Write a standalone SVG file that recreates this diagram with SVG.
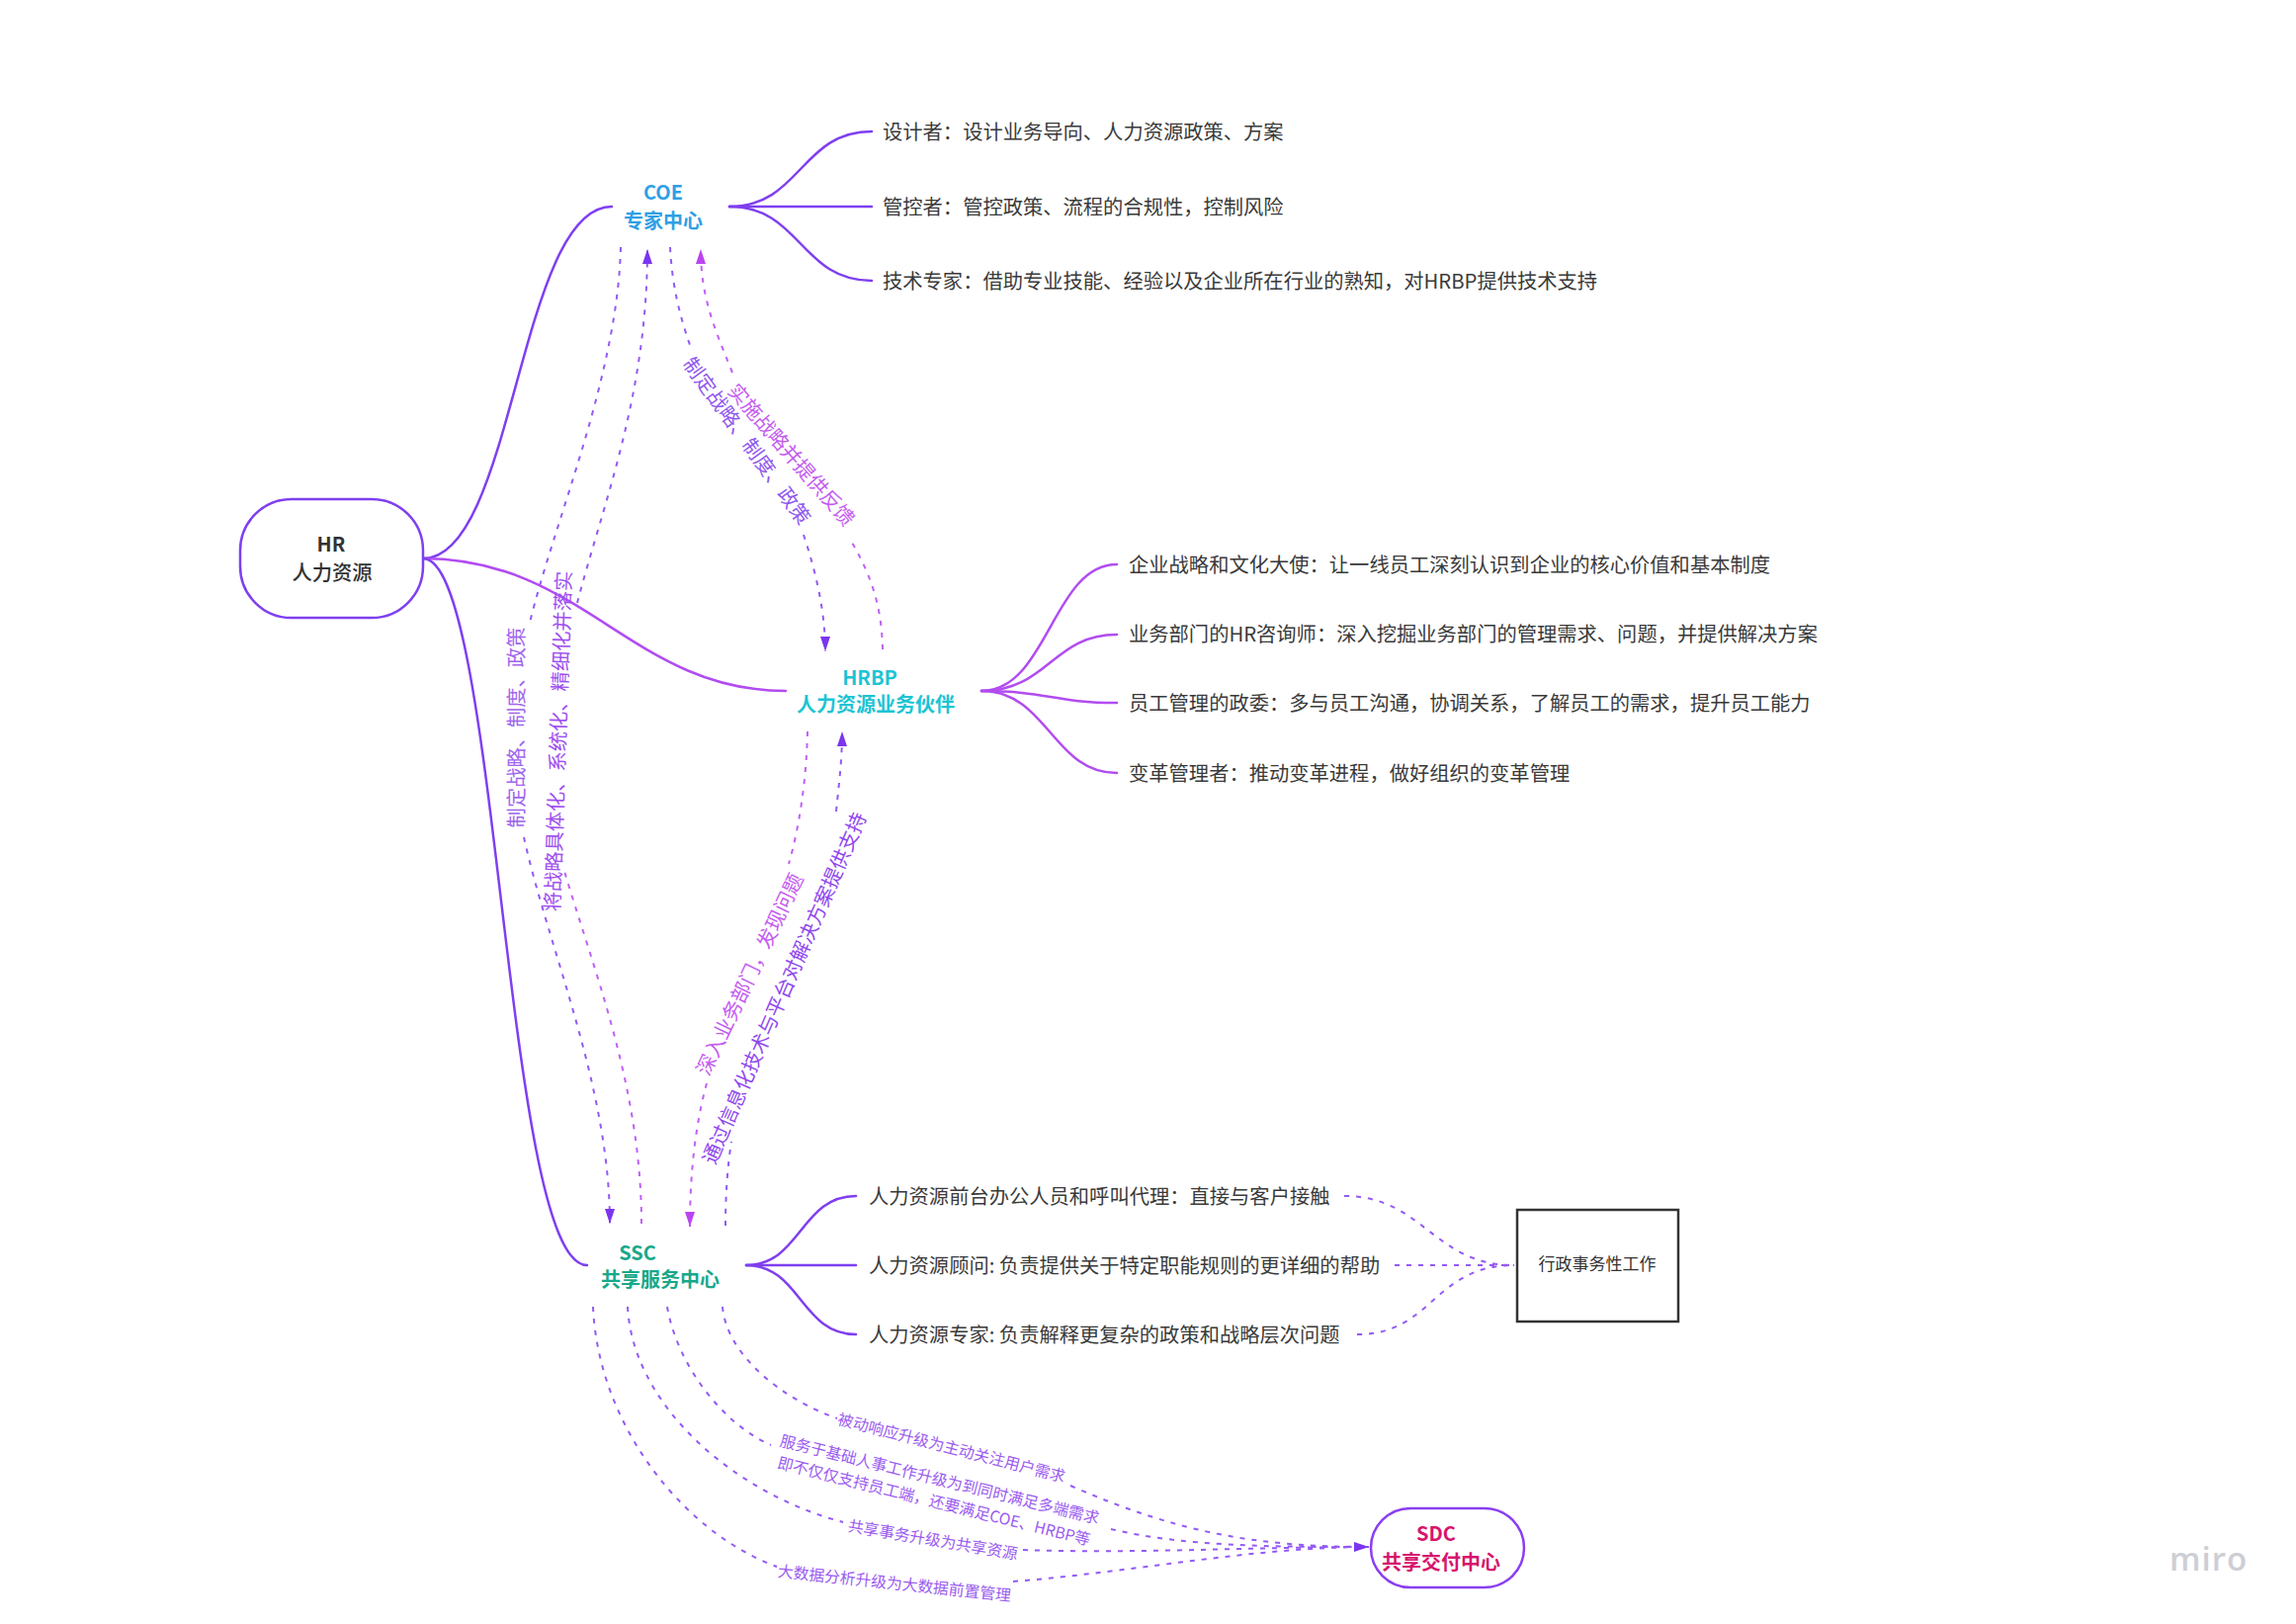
<svg xmlns="http://www.w3.org/2000/svg" width="2323" height="1643" viewBox="0 0 2323 1643">
<style>
text{font-family:"Noto Sans CJK SC","Noto Sans",sans-serif}
.leaf{font-size:20.3px;fill:#3a3a3a}
.ctr{text-anchor:middle}
.head{font-size:20px;font-weight:700}
.lbl{font-size:20.3px;text-anchor:middle;dominant-baseline:central}
.sm{font-size:15.8px;text-anchor:middle;dominant-baseline:central;fill:#9b5cf0}
.s{fill:none;stroke-width:2.5;stroke-linecap:round}
.v{stroke:#7f3ff0}
.m{stroke:#b24cf0}
.d{fill:none;stroke-width:2;stroke-dasharray:5 7}
.dv{stroke:#935af5}
.dm{stroke:#c060f5}
</style>
<defs>
<marker id="av" markerUnits="userSpaceOnUse" markerWidth="16" markerHeight="12" refX="15" refY="5" orient="auto"><path d="M0 0L15 5L0 10z" fill="#7a35f0"/></marker>
<marker id="am" markerUnits="userSpaceOnUse" markerWidth="16" markerHeight="12" refX="15" refY="5" orient="auto"><path d="M0 0L15 5L0 10z" fill="#bb44f0"/></marker>
</defs>
<rect width="2323" height="1643" fill="#fff"/>
<g id="connectors">
<path class="s v" d="M428 565C520 565 525 209 619 209"/>
<path class="s m" d="M428 565C590 565 640 699 795 699"/>
<path class="s v" d="M428 565C505 565 510 1280 594 1280"/>
<path class="s v" d="M738 209C810 209 810 133 882 133"/>
<path class="s v" d="M738 209H882"/>
<path class="s v" d="M738 209C810 209 810 284 882 284"/>
<path class="s m" d="M993 699C1060 699 1065 571 1130 571"/>
<path class="s m" d="M993 699C1060 699 1065 642 1130 642"/>
<path class="s m" d="M993 699C1060 699 1065 711 1130 711"/>
<path class="s m" d="M993 699C1060 699 1065 782 1130 782"/>
<path class="s v" d="M755 1280C810 1280 810 1210 866 1210"/>
<path class="s v" d="M755 1280H866"/>
<path class="s v" d="M755 1280C810 1280 810 1350 866 1350"/>
<path class="d dv" d="M1360 1210C1440 1210 1450 1280 1532 1280"/>
<path class="d dv" d="M1411 1280H1532"/>
<path class="d dv" d="M1373 1350C1450 1350 1450 1280 1532 1280"/>
<path class="d dv" d="M628 250C625 380 560 530 536 630"/>
<path class="d dv" marker-end="url(#av)" d="M530 847C555 960 617 1100 617 1238"/>
<path class="d dm" d="M649 1238C649 1100 600 980 570 878"/>
<path class="d dv" marker-end="url(#av)" d="M584 610C610 510 655 400 655 252"/>
<path class="d dv" d="M678 250C680 290 688 320 698 349"/>
<path class="d dv" marker-end="url(#av)" d="M813 541C826 580 835 620 835 659"/>
<path class="d dm" d="M893 657C892 610 880 580 861 547"/>
<path class="d dm" marker-end="url(#am)" d="M741 377C722 330 709 300 709 252"/>
<path class="d dm" d="M817 740C816 790 808 840 798 874"/>
<path class="d dm" marker-end="url(#am)" d="M715 1096C703 1140 698 1190 698 1241"/>
<path class="d dv" d="M734 1240C734 1210 736 1180 740 1155"/>
<path class="d dv" marker-end="url(#av)" d="M846 821C849 790 852 770 852 740"/>
<path class="d dv" d="M731 1322C735 1370 790 1415 847 1435"/>
<path class="d dv" d="M1083 1503C1190 1550 1270 1565 1385 1565"/>
<path class="d dv" d="M675 1322C685 1380 730 1440 780 1462"/>
<path class="d dv" d="M1124 1547C1200 1565 1290 1565 1385 1565"/>
<path class="d dv" d="M635 1322C640 1420 740 1510 853 1540"/>
<path class="d dv" d="M1035 1568C1150 1572 1270 1565 1385 1565"/>
<path class="d dv" marker-end="url(#av)" d="M600 1322C605 1440 690 1550 786 1585M1025 1600C1150 1590 1270 1565 1385 1565"/>
<g id="connector-labels">
<text class="lbl" fill="#a066ee" transform="translate(521 736) rotate(-90)">制定战略、制度、政策</text>
<text class="lbl" fill="#a050f0" transform="translate(563 750) rotate(-88)">将战略具体化、系统化、精细化并落实</text>
<text class="lbl" fill="#9058ee" transform="translate(757 445) rotate(54)">制定战略、制度、政策</text>
<text class="lbl" fill="#c45cf0" transform="translate(802 459) rotate(49)">实施战略并提供反馈</text>
<text class="lbl" fill="#c45cf0" transform="translate(757 985) rotate(-64.4)">深入业务部门，发现问题</text>
<text class="lbl" fill="#9048ee" transform="translate(792 999) rotate(-66.5)">通过信息化技术与平台对解决方案提供支持</text>
<text class="sm" transform="translate(963 1464) rotate(14.4)">被动响应升级为主动关注用户需求</text>
<text class="sm" transform="translate(951 1496) rotate(13.8)">服务于基础人事工作升级为到同时满足多端需求</text>
<text class="sm" transform="translate(945 1518) rotate(14)">即不仅仅支持员工端，还要满足COE、HRBP等</text>
<text class="sm" transform="translate(944 1557) rotate(9.5)">共享事务升级为共享资源</text>
<text class="sm" transform="translate(905 1601) rotate(6)">大数据分析升级为大数据前置管理</text>
</g>
</g>
<g id="hr"><rect x="243" y="505" width="185" height="120" rx="52" fill="#fff" stroke="#7f3ff0" stroke-width="2.5"/>
<text class="head ctr" x="335" y="558" fill="#333">HR</text><text class="ctr" x="336" y="587" font-size="20.3" font-weight="500" fill="#333">人力资源</text></g>
<g id="coe" fill="#2f9fe6"><text class="head ctr" x="671" y="202">COE</text><text class="head ctr" x="671" y="231">专家中心</text></g>
<g id="hrbp" fill="#1cc4d4"><text class="head ctr" x="880" y="693">HRBP</text><text class="head ctr" x="886" y="720">人力资源业务伙伴</text></g>
<g id="ssc" fill="#18a88a"><text class="head ctr" x="645" y="1275">SSC</text><text class="head ctr" x="668" y="1302">共享服务中心</text></g>
<g id="sdc"><rect x="1387" y="1526" width="155" height="80" rx="40" fill="#fff" stroke="#8a3ff0" stroke-width="2.5"/>
<text class="head ctr" x="1453" y="1559" fill="#d6156c">SDC</text><text class="head ctr" x="1458" y="1588" fill="#d6156c">共享交付中心</text></g>
<g id="coe-items">
<text class="leaf" x="893" y="141">设计者：设计业务导向、人力资源政策、方案</text>
<text class="leaf" x="893" y="217">管控者：管控政策、流程的合规性，控制风险</text>
<text class="leaf" x="893" y="292">技术专家：借助专业技能、经验以及企业所在行业的熟知，对HRBP提供技术支持</text>
</g>
<g id="hrbp-items">
<text class="leaf" x="1142" y="579">企业战略和文化大使：让一线员工深刻认识到企业的核心价值和基本制度</text>
<text class="leaf" x="1142" y="649">业务部门的HR咨询师：深入挖掘业务部门的管理需求、问题，并提供解决方案</text>
<text class="leaf" x="1142" y="719">员工管理的政委：多与员工沟通，协调关系，了解员工的需求，提升员工能力</text>
<text class="leaf" x="1142" y="790">变革管理者：推动变革进程，做好组织的变革管理</text>
</g>
<g id="ssc-items">
<text class="leaf" x="879" y="1218">人力资源前台办公人员和呼叫代理：直接与客户接触</text>
<text class="leaf" x="879" y="1288">人力资源顾问: 负责提供关于特定职能规则的更详细的帮助</text>
<text class="leaf" x="879" y="1358">人力资源专家: 负责解释更复杂的政策和战略层次问题</text>
</g>
<g id="admin"><rect x="1535" y="1224" width="163" height="113" fill="#fff" stroke="#333" stroke-width="2.5"/>
<text class="ctr" x="1616" y="1285" font-size="17" fill="#333">行政事务性工作</text></g>
<text id="miro" x="2195" y="1589" font-size="33" letter-spacing="1" font-weight="600" fill="#cdced6" style="font-family:'Open Sans',sans-serif">miro</text>
</svg>
